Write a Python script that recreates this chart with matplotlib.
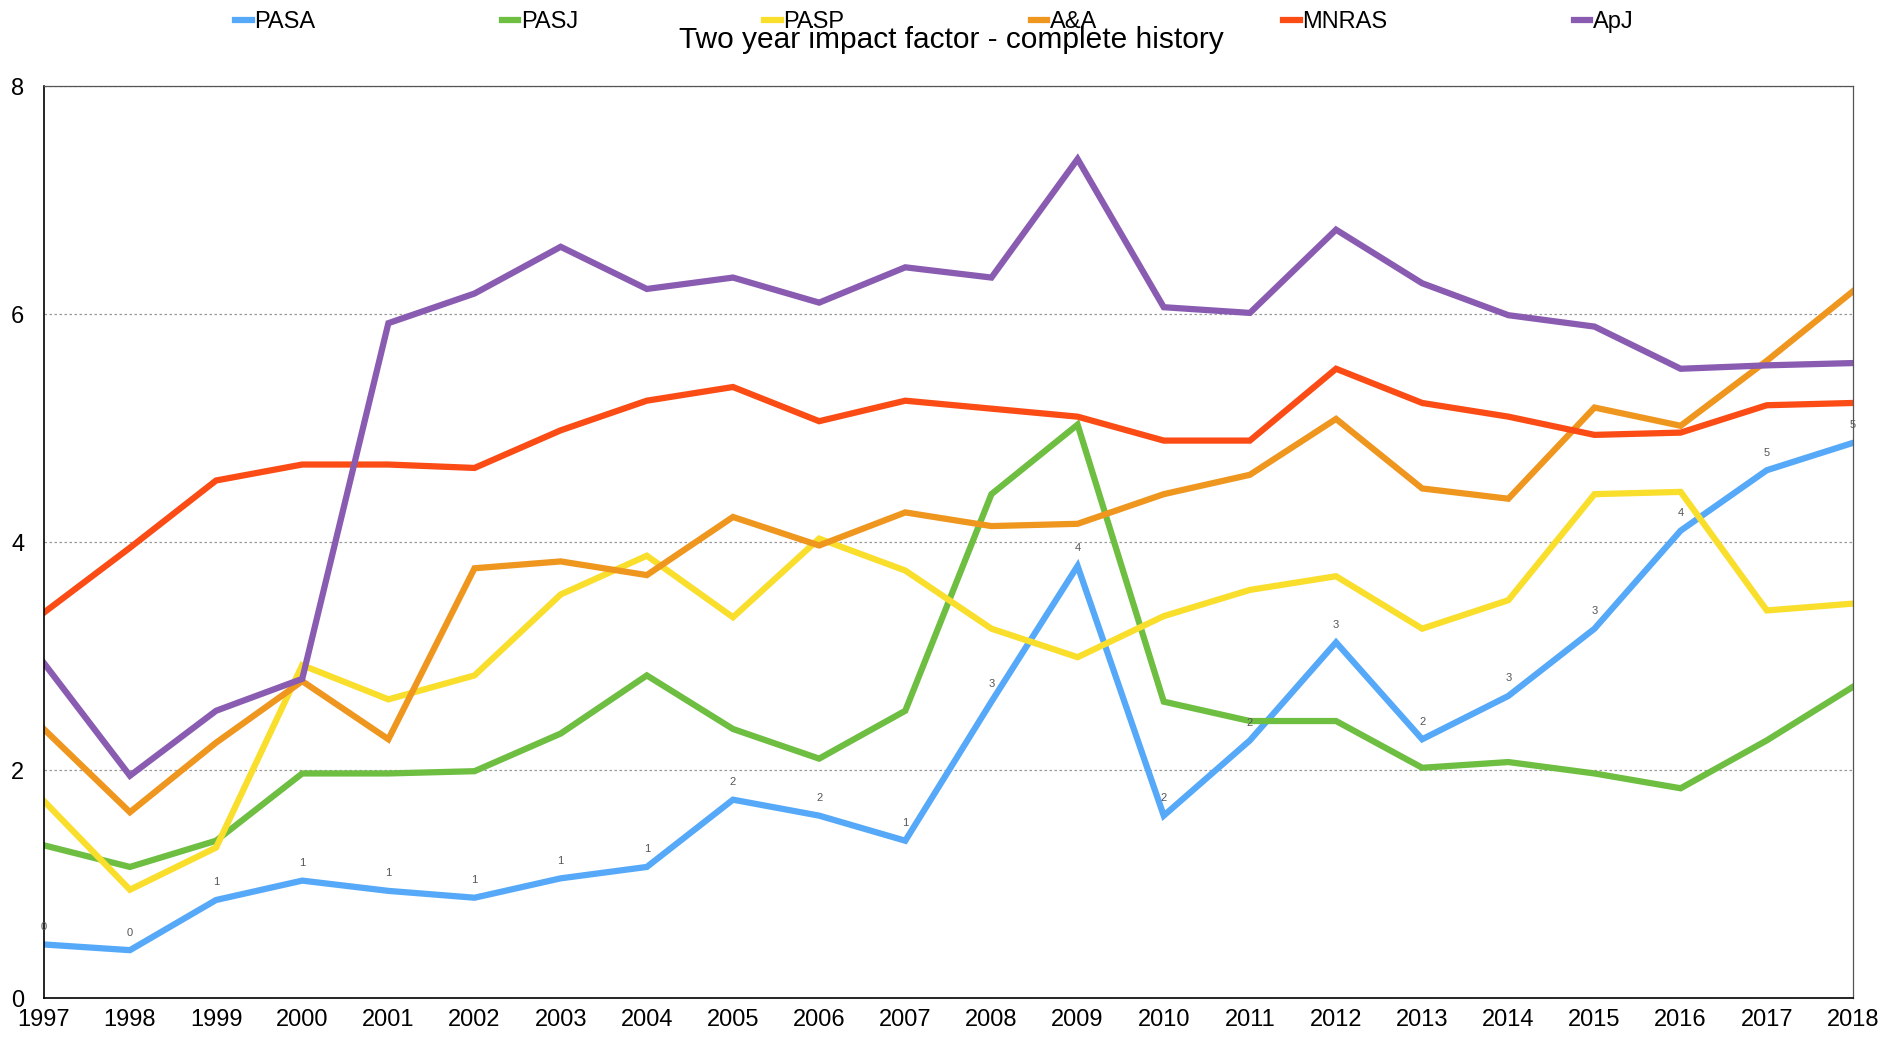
import matplotlib.pyplot as plt

plt.rcParams['font.family'] = ['Liberation Sans Narrow', 'Liberation Sans', 'DejaVu Sans']

years = list(range(1997, 2019))

# values
pasa = [0.47, 0.42, 0.86, 1.03, 0.94, 0.88, 1.05, 1.15, 1.74, 1.60, 1.38,
        2.60, 3.79, 1.60, 2.26, 3.12, 2.27, 2.65, 3.24, 4.10, 4.63, 4.87]
pasj = [1.34, 1.15, 1.38, 1.97, 1.97, 1.99, 2.32, 2.83, 2.36, 2.10, 2.52,
        4.42, 5.03, 2.60, 2.43, 2.43, 2.02, 2.07, 1.97, 1.84, 2.26, 2.73]
pasp = [1.73, 0.95, 1.32, 2.92, 2.62, 2.83, 3.54, 3.88, 3.34, 4.03, 3.75,
        3.24, 2.99, 3.35, 3.58, 3.70, 3.24, 3.49, 4.42, 4.44, 3.40, 3.46]
aa = [2.36, 1.63, 2.24, 2.78, 2.27, 3.77, 3.83, 3.71, 4.22, 3.97, 4.26,
      4.14, 4.16, 4.42, 4.59, 5.08, 4.47, 4.38, 5.18, 5.02, 5.59, 6.20]
mnras = [3.38, 3.95, 4.54, 4.68, 4.68, 4.65, 4.98, 5.24, 5.36, 5.06, 5.24,
         5.17, 5.10, 4.89, 4.89, 5.52, 5.22, 5.10, 4.94, 4.96, 5.20, 5.22]
apj = [2.94, 1.95, 2.52, 2.80, 5.92, 6.18, 6.59, 6.22, 6.32, 6.10, 6.41,
       6.32, 7.36, 6.06, 6.01, 6.74, 6.27, 5.99, 5.89, 5.52, 5.55, 5.57]

names = ['PASA', 'PASJ', 'PASP', 'A&A', 'MNRAS', 'ApJ']
series = [pasa, pasj, pasp, aa, mnras, apj]
colors = ['#55A9F8', '#6DBE41', '#F9DE2C', '#EF961E', '#FB4C15', '#8A5CB1']

fig = plt.figure(figsize=(19.03, 10.38), dpi=100)
ax = fig.add_axes([0.023, 0.0385, 0.9507, 0.8786])

for name, vals, c in zip(names, series, colors):
    ax.plot(years, vals, color=c, linewidth=4.5, label=name, solid_joinstyle='miter')

# rounded value labels on the PASA line
for x, v in zip(years, pasa):
    ax.annotate(str(int(round(v))), (x, v), xytext=(0, 9), textcoords='offset points',
                ha='center', va='bottom', fontsize=8, color='#555555')

ax.set_xlim(1997, 2018)
ax.set_ylim(0, 8)
ax.set_xticks(years)
ax.set_yticks([0, 2, 4, 6, 8])
ax.tick_params(axis='x', length=0, labelsize=17, pad=8)
ax.tick_params(axis='y', length=0, labelsize=17, pad=14)
ax.yaxis.grid(True, linestyle=(0, (2, 2)), color='#999999', linewidth=0.9)
ax.set_axisbelow(True)
for s in ['left', 'bottom']:
    ax.spines[s].set_color('black')
    ax.spines[s].set_linewidth(1.2)
for s in ['top', 'right']:
    ax.spines[s].set_color('#555555')
    ax.spines[s].set_linewidth(0.9)

fig.text(0.5, 0.961, 'Two year impact factor - complete history', ha='center',
         va='center', fontsize=21.5)
fig.legend(loc='center', bbox_to_anchor=(0.491, 0.979), ncol=6, frameon=False,
           fontsize=17, handlelength=0.7, handletextpad=0.1, columnspacing=7.9,
           borderaxespad=0)

fig.savefig('out.png', dpi=100)
